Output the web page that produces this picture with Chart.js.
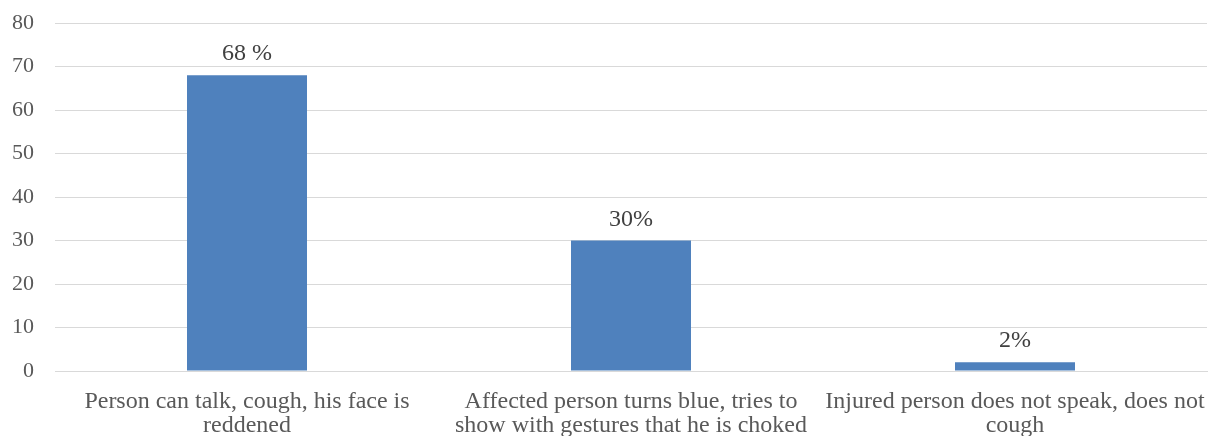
<!DOCTYPE html>
<html>
<head>
<meta charset="utf-8">
<script src="https://cdn.jsdelivr.net/npm/chart.js@4/dist/chart.umd.min.js"></script>
<style>
  html, body { margin: 0; padding: 0; background: #fff; }
  #wrap { width: 1208px; height: 436px; }
</style>
</head>
<body>
<div id="wrap"><canvas id="c" width="1208" height="436"></canvas></div>
<script>
// Signs of airway obstruction: share of answers per sign
const categories = [
  ['Person can talk, cough, his face is', 'reddened'],
  ['Affected person turns blue, tries to', 'show with gestures that he is choked'],
  ['Injured person does not speak, does not', 'cough']
];
const values = [68, 30, 2];
const valueLabels = ['68 %', '30%', '2%'];
const yTicks = [0, 10, 20, 30, 40, 50, 60, 70, 80];

const FONT = 'Liberation Serif';

// Writes each bar's label just above its top
const barLabels = {
  id: 'barLabels',
  afterDatasetsDraw(chart) {
    const ctx = chart.ctx;
    const meta = chart.getDatasetMeta(0);
    ctx.save();
    ctx.font = '24px "Liberation Serif"';
    ctx.fillStyle = '#404040';
    ctx.textAlign = 'center';
    ctx.textBaseline = 'alphabetic';
    meta.data.forEach((bar, i) => {
      ctx.fillText(valueLabels[i], bar.x, bar.y - 15);
    });
    ctx.restore();
  }
};

Chart.defaults.font.family = FONT;
Chart.defaults.color = '#595959';

new Chart(document.getElementById('c'), {
  type: 'bar',
  data: {
    labels: categories,
    datasets: [{
      data: values,
      backgroundColor: '#4F81BD',
      borderWidth: 0,
      barPercentage: 0.625,
      categoryPercentage: 0.5
    }]
  },
  options: {
    responsive: false,
    animation: false,
    devicePixelRatio: 1,
    layout: { padding: { top: 23, right: 1, left: 0, bottom: 0 } },
    plugins: { legend: { display: false }, tooltip: { enabled: false } },
    scales: {
      x: {
        grid: { display: false, drawTicks: false },
        border: { display: true, color: '#D9D9D9', width: 1 },
        ticks: {
          font: { size: 24, lineHeight: 1.0 },
          padding: 19,
          maxRotation: 0,
          autoSkip: false
        },
        afterFit(scale) {
          scale.height = 65;
          scale.paddingLeft = 0;
          scale.paddingRight = 0;
        }
      },
      y: {
        min: 0,
        max: 80,
        afterBuildTicks(scale) { scale.ticks = yTicks.map(v => ({ value: v })); },
        grid: { color: '#D9D9D9', lineWidth: 1, drawTicks: false },
        border: { display: false },
        ticks: {
          font: { size: 22 },
          padding: 21
        },
        afterFit(scale) {
          scale.width = 55;
          scale.paddingTop = 0;
          scale.paddingBottom = 0;
        }
      }
    }
  },
  plugins: [barLabels]
});
</script>
</body>
</html>
